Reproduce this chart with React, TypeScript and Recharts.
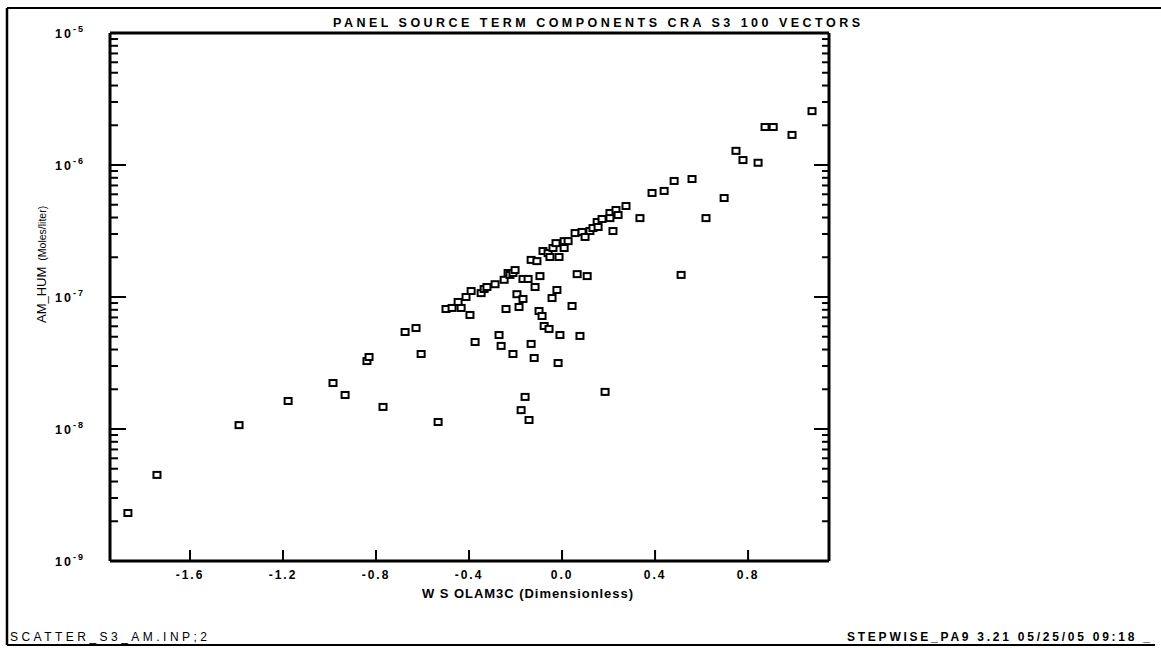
// Scatter of AM_HUM vs WSOLAM3C on a log y axis, styled like an old plotter output.
import { Scatter, ScatterChart, XAxis, YAxis } from "recharts";

const W = 1161;
const H = 648;
const FONT = "'Liberation Sans', Arial, sans-serif";

const wsolam3c = [
  -1.867, -1.742, -1.389, -1.178, -0.985, -0.933, -0.839, -0.83, -0.77, -0.675,
  -0.628, -0.606, -0.533, -0.499, -0.473, -0.434, -0.447, -0.413, -0.396, -0.391,
  -0.374, -0.348, -0.335, -0.323, -0.288, -0.271, -0.262, -0.249, -0.241, -0.232,
  -0.224, -0.211, -0.202, -0.211, -0.194, -0.185, -0.176, -0.168, -0.168, -0.159,
  -0.146, -0.142, -0.133, -0.133, -0.12, -0.116, -0.108, -0.099, -0.095, -0.086,
  -0.082, -0.077, -0.06, -0.056, -0.052, -0.043, -0.039, -0.026, -0.022, -0.017,
  -0.013, -0.009, 0.009, 0.009, 0.026, 0.043, 0.056, 0.065, 0.077, 0.086,
  0.099, 0.108, 0.12, 0.133, 0.151, 0.155, 0.172, 0.185, 0.206, 0.206,
  0.219, 0.232, 0.241, 0.275, 0.335, 0.387, 0.439, 0.482, 0.512, 0.559,
  0.619, 0.697, 0.748, 0.778, 0.843, 0.873, 0.908, 0.989, 1.075,
];

const amHum = [
  2.31e-9, 4.49e-9, 1.07e-8, 1.63e-8, 2.23e-8, 1.81e-8, 3.27e-8, 3.51e-8, 1.47e-8, 5.43e-8,
  5.82e-8, 3.7e-8, 1.13e-8, 8.11e-8, 8.26e-8, 8.26e-8, 9.17e-8, 1.0e-7, 7.31e-8, 1.11e-7,
  4.56e-8, 1.07e-7, 1.15e-7, 1.19e-7, 1.25e-7, 5.15e-8, 4.26e-8, 1.35e-7, 8.11e-8, 1.52e-7,
  1.47e-7, 1.52e-7, 1.6e-7, 3.7e-8, 1.05e-7, 8.4e-8, 1.39e-8, 9.66e-8, 1.37e-7, 1.75e-8,
  1.37e-7, 1.17e-8, 1.91e-7, 4.41e-8, 3.45e-8, 1.19e-7, 1.87e-7, 7.83e-8, 1.44e-7, 7.18e-8,
  2.23e-7, 6.03e-8, 2.15e-7, 5.73e-8, 2.01e-7, 9.82e-8, 2.35e-7, 2.56e-7, 1.13e-7, 3.16e-8,
  2.01e-7, 5.15e-8, 2.65e-7, 2.35e-7, 2.65e-7, 8.55e-8, 3.05e-7, 1.49e-7, 5.07e-8, 3.11e-7,
  2.85e-7, 1.44e-7, 3.16e-7, 3.33e-7, 3.7e-7, 3.39e-7, 3.9e-7, 1.91e-8, 4.33e-7, 3.96e-7,
  3.16e-7, 4.56e-7, 4.18e-7, 4.89e-7, 3.96e-7, 6.14e-7, 6.36e-7, 7.57e-7, 1.47e-7, 7.83e-7,
  3.96e-7, 5.62e-7, 1.28e-6, 1.09e-6, 1.04e-6, 1.94e-6, 1.94e-6, 1.69e-6, 2.56e-6,
];

const xTicks = [-1.6, -1.2, -0.8, -0.4, 0.0, 0.4, 0.8];
const xDomain = [-1.944, 1.148];
const yDecades = [1e-9, 1e-8, 1e-7, 1e-6, 1e-5];
const yDecadeLabels = ["-9", "-8", "-7", "-6", "-5"];
const yMinor = [2, 3, 4, 5, 6, 7, 8, 9];

const points = wsolam3c.map((x, i) => ({ x, y: amHum[i] }));
const yTicks: number[] = [];
yDecades.forEach((d, i) => {
  yTicks.push(d);
  if (i < yDecades.length - 1) yMinor.forEach((m) => yTicks.push(d * m));
});

const decadeIndex = (v: number) => yDecades.findIndex((d) => Math.abs(v / d - 1) < 1e-6);

function LeftTick({ x, y, payload }: any) {
  const i = decadeIndex(payload.value);
  const len = i >= 0 ? 16 : 8;
  return (
    <g>
      <line x1={x} x2={x + len} y1={y} y2={y} stroke="#000" strokeWidth={2} />
      {i >= 0 && (
        <text x={55} y={y + 5} fontFamily={FONT} fontWeight="bold" fontSize={12.5} fill="#000" letterSpacing={2}>
          10
          <tspan dy={-6} fontSize={9}>{yDecadeLabels[i]}</tspan>
        </text>
      )}
    </g>
  );
}

function RightTick({ x, y, payload }: any) {
  const len = decadeIndex(payload.value) >= 0 ? 15 : 7;
  return <line x1={x} x2={x - len} y1={y} y2={y} stroke="#000" strokeWidth={2} />;
}

function BottomTick({ x, y, payload }: any) {
  return (
    <g>
      <line x1={x} x2={x} y1={y} y2={y - 11} stroke="#000" strokeWidth={2} />
      <text x={x} y={y + 18} textAnchor="middle" fontFamily={FONT} fontWeight="bold" fontSize={12} fill="#000" letterSpacing={2}>
        {payload.value.toFixed(1)}
      </text>
    </g>
  );
}

function TopTick({ x, y }: any) {
  return <line x1={x} x2={x} y1={y} y2={y + 10} stroke="#000" strokeWidth={2} />;
}

function Box({ cx, cy }: any) {
  return <rect x={cx - 3.5} y={cy - 3} width={7} height={6} fill="#fff" stroke="#000" strokeWidth={2} />;
}

export default function App() {
  return (
    <div style={{ position: "absolute", left: 0, top: 0, width: W, height: H, background: "#fff" }}>
      <ScatterChart width={W} height={H} margin={{ top: 23, right: 322, bottom: 57, left: 10 }}>
        <XAxis type="number" dataKey="x" domain={xDomain} ticks={xTicks} allowDataOverflow
          height={30} tickSize={0} tickMargin={0} tick={<BottomTick />}
          axisLine={{ stroke: "#000", strokeWidth: 3 }} />
        <XAxis xAxisId="top" orientation="top" type="number" domain={xDomain} ticks={xTicks} allowDataOverflow
          height={10} tickSize={0} tickMargin={0} tick={<TopTick />}
          axisLine={{ stroke: "#000", strokeWidth: 3 }} />
        <YAxis type="number" dataKey="y" scale="log" domain={[1e-9, 1e-5]} ticks={yTicks} allowDataOverflow
          width={100} tickSize={0} tickMargin={0} tick={<LeftTick />} interval={0}
          axisLine={{ stroke: "#000", strokeWidth: 3 }} />
        <YAxis yAxisId="right" orientation="right" type="number" scale="log" domain={[1e-9, 1e-5]} ticks={yTicks} allowDataOverflow
          width={10} tickSize={0} tickMargin={0} tick={<RightTick />} interval={0}
          axisLine={{ stroke: "#000", strokeWidth: 3 }} />
        <Scatter data={points} shape={<Box />} isAnimationActive={false} />
      </ScatterChart>
      <svg width={W} height={H} style={{ position: "absolute", left: 0, top: 0, pointerEvents: "none" }}>
        <line x1={7} x2={W} y1={8} y2={8} stroke="#000" strokeWidth={2} />
        <line x1={7} x2={7} y1={8} y2={645} stroke="#000" strokeWidth={2.5} />
        <line x1={7} x2={1155} y1={645} y2={645} stroke="#000" strokeWidth={2} />
        <text x={333} y={27} fontFamily={FONT} fontWeight="900" fontSize={12.5} textLength={527} lengthAdjust="spacing">
          PANEL SOURCE TERM COMPONENTS CRA  S3 100 VECTORS
        </text>
        <text x={422} y={598} fontFamily={FONT} fontSize={13} fontWeight="bold" textLength={211} lengthAdjust="spacing">
          W S OLAM3C (Dimensionless)
        </text>
        <text transform="translate(46,323) rotate(-90)" fontFamily={FONT} fontSize={13}>
          <tspan>AM_HUM</tspan>
          <tspan fontSize={10.5} dx={6}>(Moles/liter)</tspan>
        </text>
        <text x={10} y={641} fontFamily={FONT} fontSize={12} textLength={197} lengthAdjust="spacing">
          SCATTER_S3_AM.INP;2
        </text>
        <text x={847} y={641} fontFamily={FONT} fontWeight="900" fontSize={12} textLength={303} lengthAdjust="spacing">
          STEPWISE_PA9 3.21 05/25/05 09:18 _
        </text>
      </svg>
    </div>
  );
}
